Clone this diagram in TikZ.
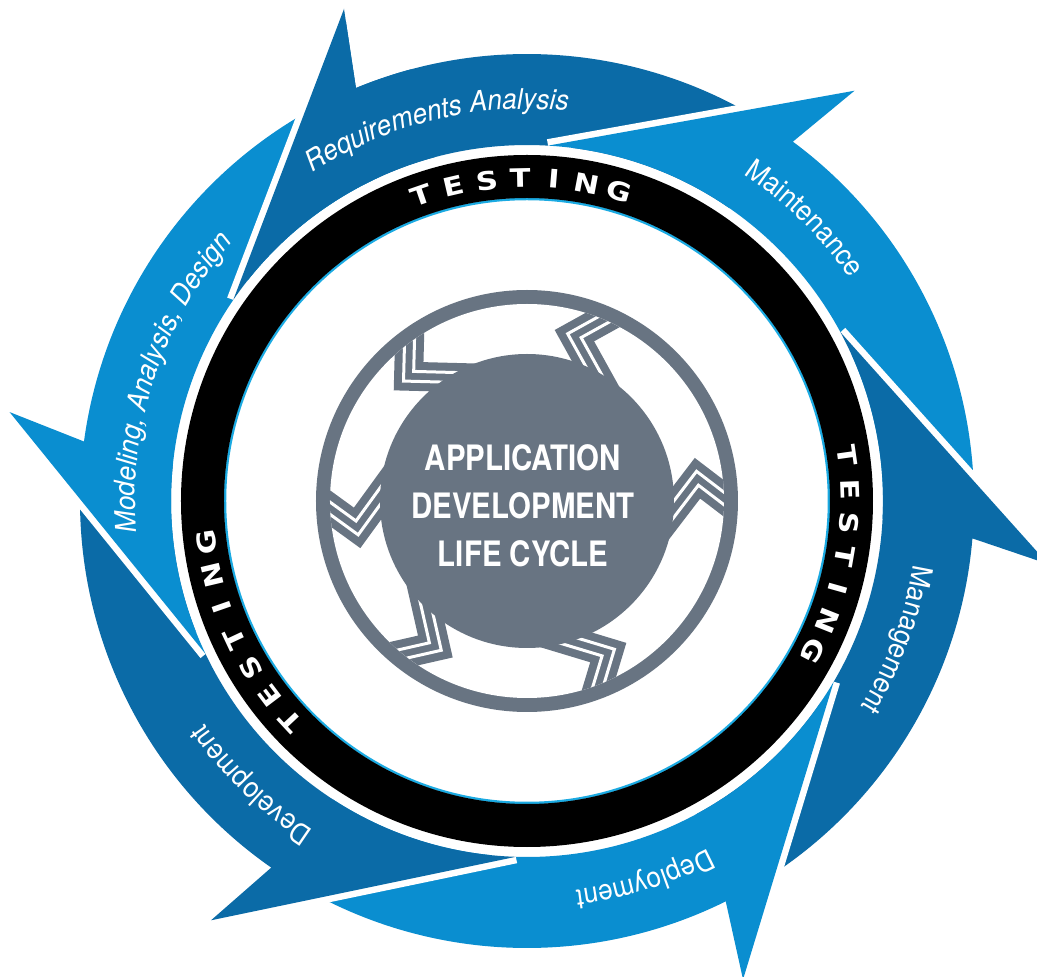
\documentclass[tikz,border=0pt]{standalone}
\usepackage{fontspec}
\setmainfont{TeX Gyre Heros}
\newfontfamily\bandfont[FakeStretch=0.92]{TeX Gyre Heros}
\newfontfamily\centerfont[FakeStretch=0.84]{TeX Gyre Heros}
\newfontfamily\testfont[FakeStretch=1.2]{DejaVu Sans}
\usetikzlibrary{decorations.text}
\definecolor{darkb}{HTML}{0B6BA7}
\definecolor{lightb}{HTML}{0A8ED0}
\definecolor{emb}{HTML}{687482}
\definecolor{cyanl}{HTML}{1BAAE2}
\newcommand\bandsz{\fontsize{28.5}{30}\selectfont}
% white gap along the head edge of an arrow (barb angle)
\newcommand\lcgap[1]{\draw[white, line width=13] ({#1}:525) -- ({#1+35.2}:356);}
% arrow body: barb angle, tail angle, colour
\newcommand\lcfill[3]{\fill[#3] ({#1+35.2}:356) -- ({#1}:525) -- ({#1+2.1}:447)
  arc[start angle={#1+2.1}, end angle={#2}, radius=447] -- ({#2}:356)
  arc[start angle={#2}, end angle={#1+35.2}, radius=356] -- cycle;}
% curved band label: centre angle, format, text
\newcommand\lctext[3]{\path[decorate, decoration={text along path, text align=center,
  text color=white, text={|#2|#3}}] ({#1+40}:392) arc[start angle={#1+40}, end angle={#1-40}, radius=392];}
% chevron separator in the emblem
\newcommand\lcchev[1]{\begin{scope}[shift={(#1:172)}, rotate=#1]
  \fill[emb] (0,20.5) -- (50,-29.5) -- (50,-70.5) -- (0,-20.5) -- (-50,-70.5) -- (-50,-29.5) -- cycle;
  \draw[white, line width=3, miter limit=10] (-50,-43) -- (0,7) -- (50,-43);
  \draw[white, line width=3, miter limit=10] (-50,-57) -- (0,-7) -- (50,-57);
  \end{scope}}
\tikzset{tletter/.style={text=white, font=\testfont\bfseries\fontsize{25.5}{26}\selectfont, inner sep=0, anchor=center}}
\newcommand\testring[2]{\foreach \c [count=\i] in {T,E,S,T,I,N,G}{%
  \pgfmathsetmacro\aa{#1+(4-\i)*5.95}%
  \node[tletter, rotate=\aa-90] (#2\i) at (\aa:323) {\c};}}
\begin{document}
\begin{tikzpicture}[x=1pt, y=1pt]
\useasboundingbox (-527,-476) rectangle (510,501);
\clip (-527,-476) rectangle (510,501);
\fill[white] (-527,-476) rectangle (510,501);
% ---- outer arrows (counter-clockwise cycle) ----
\lcgap{110.4}\lcfill{110.4}{55.4}{darkb}      % Requirements Analysis
\lcgap{51.4}\lcfill{51.4}{-2.9}{lightb}       % Maintenance
\lcgap{-6.9}\lcfill{-6.9}{-61.7}{darkb}       % Management
\lcgap{-65.7}\lcfill{-65.7}{-123}{lightb}     % Deployment
\lcgap{-127}\lcfill{-127}{-185.75}{darkb}     % Development
\lcgap{170.25}\lcfill{170.25}{114.4}{lightb}  % Modeling
\begin{scope}
  \clip (0,0) -- (105:900) arc[start angle=105, end angle=165, radius=900] -- cycle;
  \lcgap{110.4}\lcfill{110.4}{55.4}{darkb}
\end{scope}
% ---- band labels ----
\lctext{103.6}{\bandfont\itshape\bandsz}{Requirements Analysis}
\lctext{45.5}{\bandfont\bandsz}{Maintenance}
\lctext{-20.5}{\bandfont\bandsz}{Management}
\lctext{-72.7}{\bandfont\bandsz}{Deployment}
\lctext{-134.2}{\bandfont\bandsz}{Development}
\lctext{161.6}{\bandfont\itshape\bandsz}{Modeling, Analysis, Design}
% ---- testing ring ----
\draw[cyanl, line width=2.5] (0,0) circle[radius=302];
\fill[black, even odd rule] (0,0) circle[radius=346] (0,0) circle[radius=303];
\testring{91.2}{ta}
\testring{-9.8}{tb}
\testring{205.2}{tc}
% ---- emblem ----
\fill[emb] (0,0) circle[radius=211];
\fill[white] (0,0) circle[radius=197];
\begin{scope}
  \clip (0,0) circle[radius=197];
  \lcchev{74}\lcchev{133.5}\lcchev{189}\lcchev{237.8}\lcchev{298.2}\lcchev{7.6}
\end{scope}
\fill[emb] (0,0) circle[radius=147];
\node[text=white, align=center, inner sep=0,
  font=\centerfont\bfseries\fontsize{35}{48}\selectfont] (title) at (-4,-5)
  {APPLICATION\\DEVELOPMENT\\LIFE CYCLE};
\end{tikzpicture}
\end{document}
